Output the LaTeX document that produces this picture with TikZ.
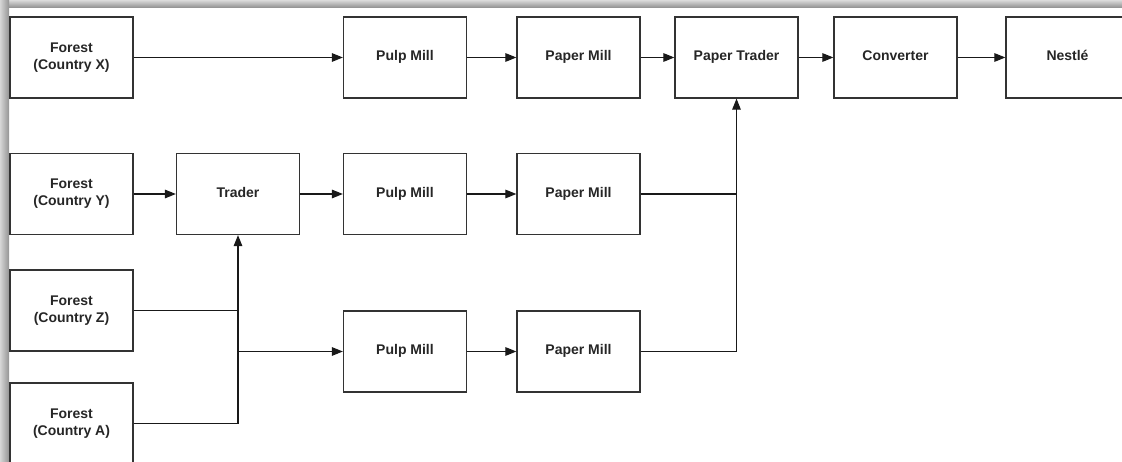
\documentclass[tikz,border=0pt]{standalone}
\usepackage{fontspec}
\setmainfont{Liberation Sans}
\usetikzlibrary{arrows.meta,calc}

\tikzset{
  blk/.style={draw=black!80, line width=1.2pt, fill=white, minimum width=123pt,
    minimum height=81pt, inner sep=2pt, align=center, text=black!85,
    font=\fontsize{14}{17}\selectfont\bfseries},
  one/.style={blk, text height=10pt, text depth=3pt},
  link/.style={draw=black!90, line width=1.1pt},
  arr/.style={link, -{Triangle[length=11pt,width=8.5pt]}}
}

\begin{document}
\begin{tikzpicture}[x=1pt,y=-1pt]
  \useasboundingbox (0,0) rectangle (1122,462);
  \clip (0,0) rectangle (1122,462);

  % page edge shadow along the top and left sides
  \shade[top color=black!14, bottom color=black!45] (0,0) rectangle (1122,8);
  \shade[left color=black!16, right color=black!42] (0,0) rectangle (9,462);

  % top row
  \node[blk] (fx)  at (71.5,57.5)  {Forest\\(Country X)};
  \node[one] (pm1) at (405,57.5)   {Pulp Mill};
  \node[one] (pp1) at (578.5,57.5) {Paper Mill};
  \node[one] (pt)  at (736.5,57.5) {Paper Trader};
  \node[one] (cv)  at (895.5,57.5) {Converter};
  \node[one] (ne)  at (1067.5,57.5) {Nestlé};

  % second row
  \node[blk] (fy)  at (71.5,194)   {Forest\\(Country Y)};
  \node[one] (tr)  at (238,194)    {Trader};
  \node[one] (pm2) at (405,194)    {Pulp Mill};
  \node[one] (pp2) at (578.5,194)  {Paper Mill};

  % third row and bottom
  \node[blk] (fz)  at (71.5,310.5) {Forest\\(Country Z)};
  \node[one] (pm3) at (405,351.5)  {Pulp Mill};
  \node[one] (pp3) at (578.5,351.5) {Paper Mill};
  \node[blk] (fa)  at (71.5,423.5) {Forest\\(Country A)};

  % top chain
  \draw[arr] (fx) -- (pm1);
  \draw[arr] (pm1) -- (pp1);
  \draw[arr] (pp1) -- (pt);
  \draw[arr] (pt) -- (cv);
  \draw[arr] (cv) -- (ne);

  % second chain
  \draw[arr] (fy) -- (tr);
  \draw[arr] (tr) -- (pm2);
  \draw[arr] (pm2) -- (pp2);

  % forests Z and A feed the trader and the third pulp mill
  \draw[arr] (fa.east) -| (tr.south);
  \draw[link] (fz.east) -- (fz.east -| tr.south);
  \draw[arr] (tr.south |- pm3.west) -- (pm3.west);
  \draw[arr] (pm3) -- (pp3);

  % paper mills feed the paper trader
  \draw[arr] (pp3.east) -| (pt.south);
  \draw[link] (pp2.east) -- (pp2.east -| pt.south);
\end{tikzpicture}
\end{document}
